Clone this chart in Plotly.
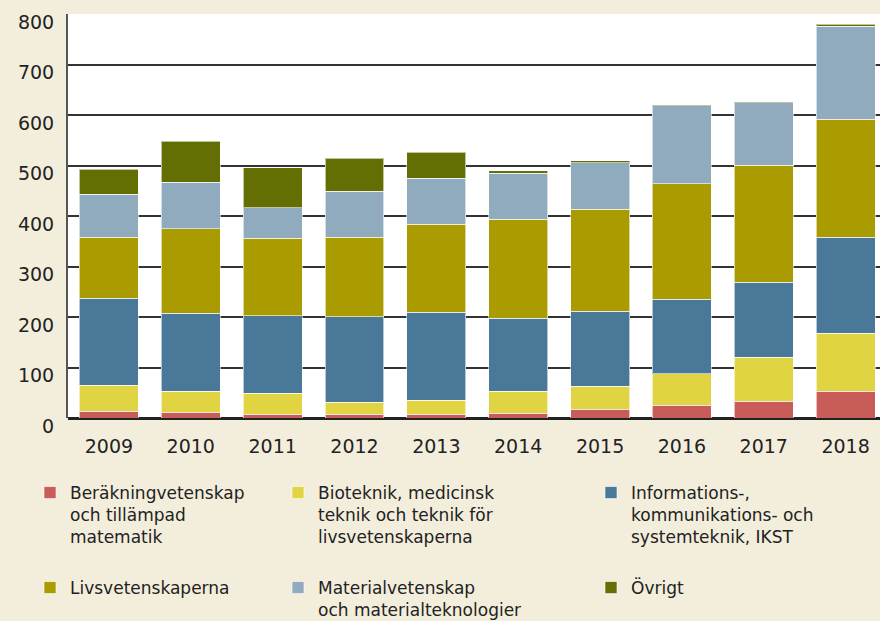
import plotly.graph_objects as go

years = ["2009", "2010", "2011", "2012", "2013", "2014", "2015", "2016", "2017", "2018"]

berakning = [13, 11, 7, 7, 7, 9, 17, 25, 33, 53]
bioteknik = [52, 42, 42, 24, 28, 44, 46, 63, 87, 115]
ikst = [172, 154, 153, 170, 174, 145, 148, 147, 149, 190]
livsvetenskaperna = [121, 168, 154, 157, 175, 196, 202, 229, 232, 234]
material = [85, 92, 60, 91, 91, 91, 92, 154, 123, 184]
ovrigt = [50, 81, 80, 65, 51, 5, 4, 2, 2, 4]

series_names = [
    "Beräkningvetenskap<br>och tillämpad<br>matematik",
    "Bioteknik, medicinsk<br>teknik och teknik för<br>livsvetenskaperna",
    "Informations-,<br>kommunikations- och<br>systemteknik, IKST",
    "Livsvetenskaperna",
    "Materialvetenskap<br>och materialteknologier",
    "Övrigt",
]
series_values = [berakning, bioteknik, ikst, livsvetenskaperna, material, ovrigt]
colors = ["#c85c58", "#e0d443", "#4a7899", "#aa9c00", "#90abbd", "#636e03"]

W, H = 880, 621
ML, MR, MT, MB = 68, 0, 14, 203
PW = W - ML - MR
PH = H - MT - MB

def px2x(px):
    return (px - ML) / PW

def py2y(py):
    return (H - MB - py) / PH

FONT = "'DejaVu Sans', Verdana, sans-serif"
legend_ids = ["legend", "legend2", "legend3", "legend4", "legend5", "legend6"]
legend_pos = [(30, 475), (278, 475), (591, 475), (30, 570), (278, 570), (591, 570)]

fig = go.Figure()
for name, vals, col, lid in zip(series_names, series_values, colors, legend_ids):
    fig.add_trace(go.Bar(
        x=years, y=vals, name=name, legend=lid, showlegend=True,
        marker=dict(color=col, line=dict(color="rgba(255,255,255,0.6)", width=1)),
        hovertemplate="%{x}: %{y}<extra></extra>",
    ))

layout_legends = {}
for lid, (lx, ly) in zip(legend_ids, legend_pos):
    layout_legends[lid] = dict(
        x=px2x(lx), y=py2y(ly), xanchor="left", yanchor="top",
        bgcolor="rgba(0,0,0,0)", borderwidth=0, valign="top",
        font=dict(family=FONT, size=17, color="#222"),
    )

fig.update_layout(
    width=W, height=H, showlegend=True,
    margin=dict(l=ML, r=MR, t=MT, b=MB, pad=0, autoexpand=False),
    barmode="stack", bargap=0.28,
    paper_bgcolor="#f3eedc", plot_bgcolor="#ffffff",
    font=dict(family=FONT, size=19, color="#222"),
    xaxis=dict(
        type="category", range=[-0.5, 9.42], showgrid=False,
        showline=False, ticks="", tickfont=dict(size=19, color="#222"),
        ticklabelstandoff=15, fixedrange=True,
    ),
    yaxis=dict(
        range=[0, 800], tickvals=[0, 100, 200, 300, 400, 500, 600, 700, 800],
        showgrid=True, gridcolor="#333333", gridwidth=1.5,
        showline=True, linecolor="#555555", linewidth=2,
        zeroline=True, zerolinecolor="#222222", zerolinewidth=2.5,
        ticks="", tickfont=dict(size=19, color="#222"),
        ticklabelstandoff=8, ticklabelshift=8, fixedrange=True,
    ),
    **layout_legends,
)

fig.write_html(
    "out.html",
    config={"displayModeBar": False},
    post_script="document.body.style.margin='0';document.body.style.background='#f3eedc';",
)
